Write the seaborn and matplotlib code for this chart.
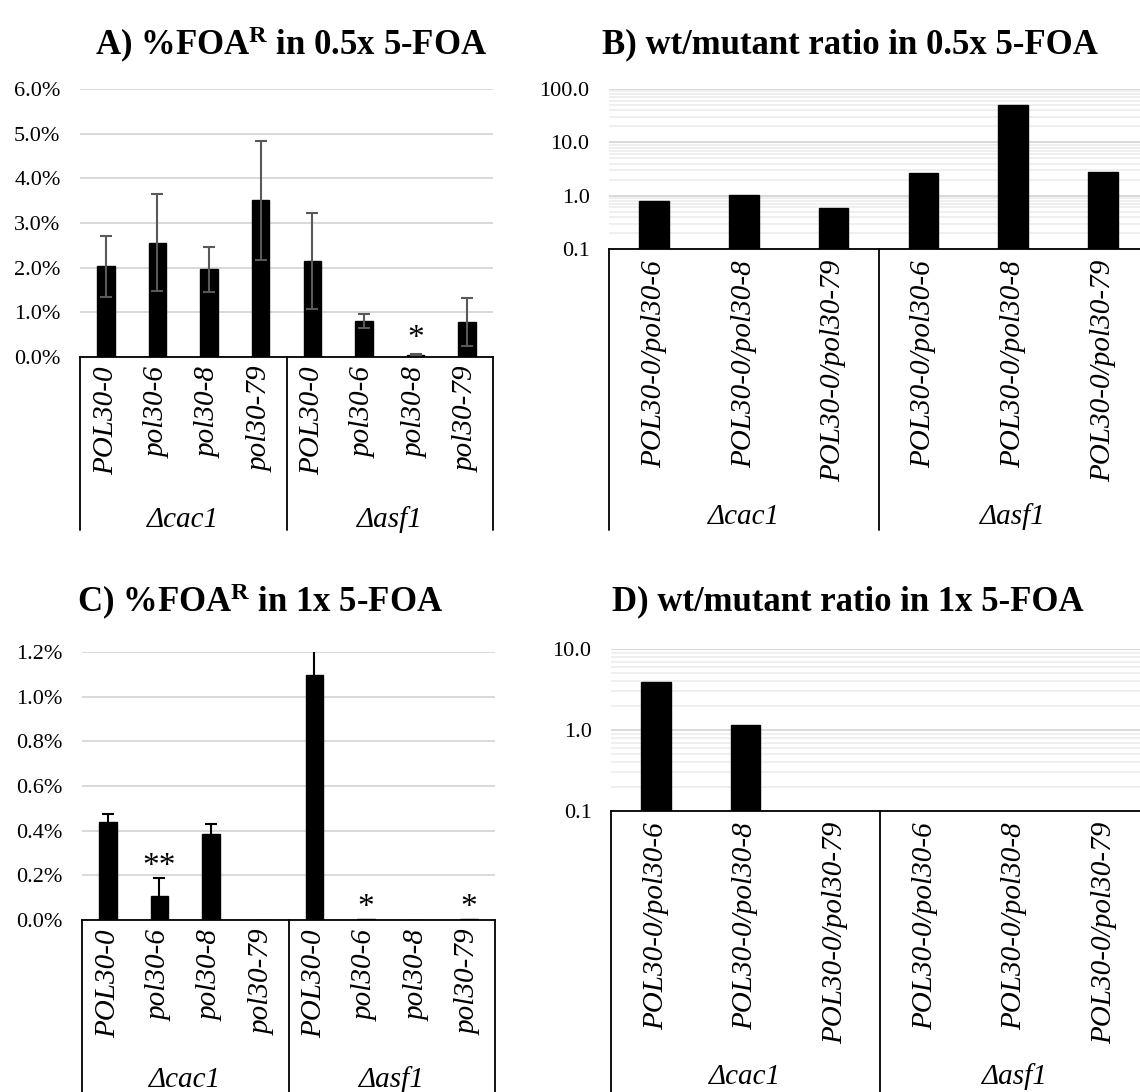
import numpy as np
import pandas as pd
import matplotlib
matplotlib.use("Agg")
import matplotlib.pyplot as plt
import seaborn as sns
from matplotlib.transforms import blended_transform_factory
from matplotlib.ticker import FixedLocator, NullFormatter

# ---------------- data ----------------
strains = ["POL30-0", "pol30-6", "pol30-8", "pol30-79"]
groups = ["Δcac1", "Δasf1"]
ratio_labels = ["POL30-0/pol30-6", "POL30-0/pol30-8", "POL30-0/pol30-79"]

# A) %FOA^R in 0.5x 5-FOA (percent)
a_values = [2.03, 2.56, 1.96, 3.51, 2.15, 0.81, 0.04, 0.78]
a_err = [0.69, 1.08, 0.50, 1.33, 1.08, 0.16, 0.02, 0.54]
a_stars = ["", "", "", "", "", "", "*", ""]
a_star_y = [0, 0, 0, 0, 0, 0, 0.49, 0]

# B) wt/mutant ratio in 0.5x 5-FOA
b_values = [0.80, 1.04, 0.59, 2.70, 51.0, 2.72]

# C) %FOA^R in 1x 5-FOA (percent)
c_values = [0.437, 0.108, 0.385, 0.0, 1.098, 0.003, 0.0, 0.003]
c_err = [0.038, 0.081, 0.045, 0.0, 0.15, 0.0, 0.0, 0.0]
c_stars = ["", "**", "", "", "", "*", "", "*"]
c_star_y = [0, 0.257, 0, 0, 0, 0.072, 0, 0.072]

# D) wt/mutant ratio in 1x 5-FOA
d_values = [3.95, 1.15, np.nan, np.nan, np.nan, np.nan]

titles = [r"A) %FOA$^{\mathbf{R}}$ in 0.5x 5-FOA",
          "B) wt/mutant ratio in 0.5x 5-FOA",
          r"C) %FOA$^{\mathbf{R}}$ in 1x 5-FOA",
          "D) wt/mutant ratio in 1x 5-FOA"]

# ---------------- style ----------------
sns.set_theme(style="white")
plt.rcParams["font.family"] = ["Liberation Serif", "DejaVu Serif"]
plt.rcParams["mathtext.fontset"] = "custom"
plt.rcParams["mathtext.rm"] = "Liberation Serif"
plt.rcParams["mathtext.bf"] = "Liberation Serif:bold"
plt.rcParams["mathtext.it"] = "Liberation Serif:italic"
plt.rcParams["text.color"] = "black"
plt.rcParams["xtick.color"] = "black"
plt.rcParams["ytick.color"] = "black"
plt.rcParams["axes.labelcolor"] = "black"

W, H = 1140, 1092
fig = plt.figure(figsize=(W / 100, H / 100), dpi=100)
fig.patch.set_facecolor("white")


def px_axes(left, right, top, bottom):
    return fig.add_axes([left / W, (H - bottom) / H, (right - left) / W, (bottom - top) / H])


GRID = "#d9d9d9"
MINOR = "#eeeeee"
TICK_FS = 16
CAT_FS = 21


def make_frame(labels, values):
    keys = [f"{groups[i // (len(labels) // 2)]}|{lab}" for i, lab in enumerate(labels)]
    return pd.DataFrame({"key": keys, "value": values}), keys


def decorate(ax, labels, n, line_bottom, group_y, pad):
    for s in ["left", "top", "right"]:
        ax.spines[s].set_visible(False)
    ax.spines["bottom"].set_color("black")
    ax.spines["bottom"].set_linewidth(1.3)
    ax.set_xlabel("")
    ax.set_ylabel("")
    ax.set_xlim(-0.5, n - 0.5)
    ax.set_xticks(range(n))
    ax.set_xticklabels(labels, rotation=90, fontstyle="italic", fontsize=CAT_FS, color="black")
    ax.tick_params(axis="x", length=0, pad=pad, colors="black")
    ax.tick_params(axis="y", length=0, pad=14, labelsize=TICK_FS, colors="black")
    ax.set_axisbelow(True)
    tr = blended_transform_factory(ax.transData, ax.transAxes)
    for xv in [-0.5, n / 2 - 0.5, n - 0.5]:
        ax.plot([xv, xv], [0, line_bottom], transform=tr, color="black", lw=1.3, clip_on=False)
    for gi, g in enumerate(groups):
        cx = (n / 2) * gi + (n / 2 - 1) / 2
        ax.text(cx, group_y, g, transform=tr, ha="center", va="center",
                fontstyle="italic", fontsize=CAT_FS, color="black")


def linear_panel(ax, values, err, ecolor, stars, star_y, ymax, step):
    labels = strains * 2
    df, keys = make_frame(labels, values)
    sns.barplot(data=df, x="key", y="value", order=keys, color="black", saturation=1,
                width=0.34, errorbar=None, edgecolor="black", ax=ax)
    idx = [i for i, e in enumerate(err) if e > 0]
    ax.errorbar(idx, [values[i] for i in idx], yerr=[err[i] for i in idx], fmt="none",
                ecolor=ecolor, elinewidth=1.5, capsize=4.5, capthick=1.5)
    for i, s in enumerate(stars):
        if s:
            ax.annotate(s, xy=(i, star_y[i]), xytext=(0, -8.6), textcoords="offset points",
                        ha="center", va="baseline", fontsize=24, color="black")
    ticks = np.round(np.arange(0, ymax + step / 2, step), 3)
    ax.set_ylim(0, ymax)
    ax.set_yticks(ticks)
    ax.set_yticklabels([f"{t:.1f}%" for t in ticks])
    ax.grid(axis="y", color=GRID, lw=1.4)
    ax.grid(axis="x", visible=False)
    return labels


def log_panel(ax, values, ymax):
    labels = ratio_labels * 2
    df, keys = make_frame(labels, values)
    ax.set_yscale("log")
    sns.barplot(data=df, x="key", y="value", order=keys, color="black", saturation=1,
                width=0.33, errorbar=None, edgecolor="black", ax=ax)
    ax.set_yscale("log")
    ax.set_ylim(0.1, ymax)
    major = [10.0 ** k for k in range(-1, int(np.log10(ymax)) + 1)]
    ax.yaxis.set_major_locator(FixedLocator(major))
    ax.set_yticklabels([f"{t:.1f}" for t in major])
    minor = [m * t for t in major[:-1] for m in range(2, 10)]
    ax.yaxis.set_minor_locator(FixedLocator(minor))
    ax.yaxis.set_minor_formatter(NullFormatter())
    ax.tick_params(axis="y", which="minor", length=0)
    ax.grid(axis="y", which="minor", color=MINOR, lw=1.3)
    ax.grid(axis="y", which="major", color=GRID, lw=1.4)
    ax.grid(axis="x", visible=False)
    return labels


# A
axA = px_axes(80, 493, 89, 357)
labs = linear_panel(axA, a_values, a_err, "#595959", a_stars, a_star_y, 6.0, 1.0)
decorate(axA, labs, 8, -(530 - 357) / 268, -(520 - 357) / 268, 7)

# B
axB = px_axes(609, 1148, 89, 249)
labs = log_panel(axB, b_values, 100.0)
decorate(axB, labs, 6, -(530 - 249) / 160, -(517 - 249) / 160, 8)

# C
axC = px_axes(82, 495, 652, 920)
labs = linear_panel(axC, c_values, c_err, "black", c_stars, c_star_y, 1.2, 0.2)
decorate(axC, labs, 8, -(1100 - 920) / 268, -(1080 - 920) / 268, 7)

# D
axD = px_axes(611, 1149, 649, 811)
labs = log_panel(axD, d_values, 10.0)
decorate(axD, labs, 6, -(1100 - 811) / 162, -(1077 - 811) / 162, 8)

# titles
for t, (cx, cy) in zip(titles, [(291, 45), (850, 45), (260, 602), (848, 602)]):
    fig.text(cx / W, 1 - cy / H, t, ha="center", va="center", fontsize=25,
             fontweight="bold", color="black")

fig.savefig("out.png", dpi=100, facecolor="white")
